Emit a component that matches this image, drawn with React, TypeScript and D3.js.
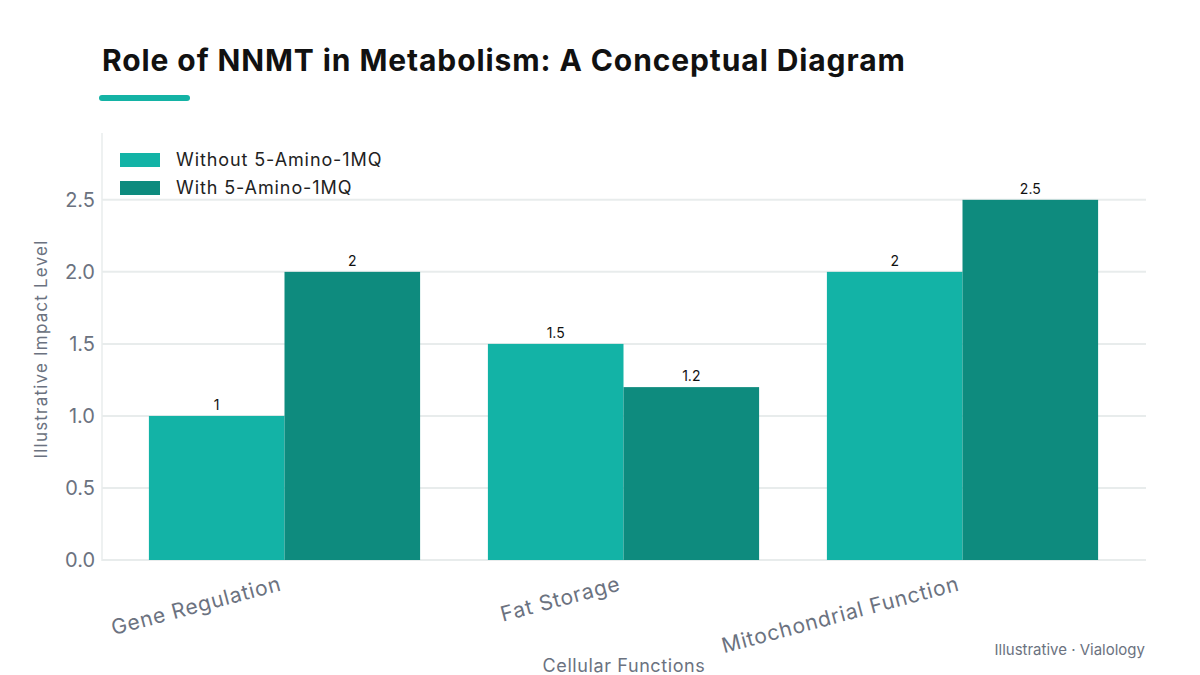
import * as d3 from 'd3'
import { useEffect, useRef } from "react";

const categories = ["Gene Regulation", "Fat Storage", "Mitochondrial Function"];
const seriesNames = ["Without 5-Amino-1MQ", "With 5-Amino-1MQ"];
const withoutValues = [1, 1.5, 2];
const withValues = [2, 1.2, 2.5];
const yTicks = [0, 0.5, 1.0, 1.5, 2.0, 2.5];
const colors = ["#13b3a6", "#0e8b7e"];

const App = () => {
  const svgRef = useRef(null);

  useEffect(() => {
    const svg = d3.select(svgRef.current);
    svg.selectAll('*').remove();
    const font = "Inter, 'DejaVu Sans', sans-serif";

    const x0 = d3.scaleBand().domain(categories).range([115, 1132]).paddingInner(0.2).paddingOuter(0.1);
    const x1 = d3.scaleBand().domain(seriesNames).range([0, x0.bandwidth()]);
    const y = d3.scaleLinear().domain([0, 2.95]).range([560, 135]);

    // title
    svg.append('text').attr('x', 102).attr('y', 71)
      .attr('font-family', font).attr('font-weight', 700).attr('font-size', 30)
      .attr('letter-spacing', 0.9)
      .attr('fill', '#111').text("Role of NNMT in Metabolism: A Conceptual Diagram");
    svg.append('rect').attr('x', 99).attr('y', 95).attr('width', 91).attr('height', 6)
      .attr('rx', 3).attr('fill', '#14b3a5');

    // grid
    svg.append('g').selectAll('line').data(yTicks).enter().append('line')
      .attr('x1', 102).attr('x2', 1146)
      .attr('y1', d => y(d)).attr('y2', d => y(d))
      .attr('stroke', '#e8ecec').attr('stroke-width', 2);
    svg.append('line').attr('x1', 102).attr('x2', 102).attr('y1', 133).attr('y2', 561)
      .attr('stroke', '#e8ecec').attr('stroke-width', 1.5);

    // y tick labels
    svg.append('g').selectAll('text').data(yTicks).enter().append('text')
      .attr('x', 95).attr('y', d => y(d)).attr('dy', '0.35em')
      .attr('text-anchor', 'end').attr('font-family', font).attr('font-size', 20)
      .attr('fill', '#6b7280').text(d => d3.format('.1f')(d));

    svg.append('text').attr('transform', 'translate(47,349) rotate(-90)')
      .attr('text-anchor', 'middle').attr('font-family', font).attr('font-size', 17)
      .attr('letter-spacing', 1.2)
      .attr('fill', '#6b7280').text("Illustrative Impact Level");

    // bars
    const series = [withoutValues, withValues];
    categories.forEach((c, i) => {
      series.forEach((vals, s) => {
        const bx = x0(c) + x1(seriesNames[s]);
        svg.append('rect').attr('x', bx).attr('y', y(vals[i]))
          .attr('width', x1.bandwidth()).attr('height', y(0) - y(vals[i]))
          .attr('fill', colors[s]);
        svg.append('text').attr('x', bx + x1.bandwidth() / 2).attr('y', y(vals[i]) - 6)
          .attr('text-anchor', 'middle').attr('font-family', font).attr('font-size', 14)
          .attr('fill', '#111').text(String(vals[i]));
      });
    });

    // x labels
    svg.append('g').selectAll('text').data(categories).enter().append('text')
      .attr('transform', d => `translate(${x0(d) + x0.bandwidth() / 2 - 2},${590}) rotate(-15)`)
      .attr('text-anchor', 'end').attr('font-family', font).attr('font-size', 21)
      .attr('letter-spacing', 0.8)
      .attr('fill', '#6b7280').text(d => d);

    svg.append('text').attr('x', 624).attr('y', 672)
      .attr('text-anchor', 'middle').attr('font-family', font).attr('font-size', 18)
      .attr('letter-spacing', 0.6)
      .attr('fill', '#6b7280').text("Cellular Functions");

    svg.append('text').attr('x', 1145).attr('y', 655)
      .attr('text-anchor', 'end').attr('font-family', font).attr('font-size', 15)
      .attr('fill', '#6b7280').text("Illustrative · Vialology");

    // legend
    seriesNames.forEach((n, i) => {
      svg.append('rect').attr('x', 120).attr('y', 153 + i * 28).attr('width', 40).attr('height', 14)
        .attr('fill', colors[i]);
      svg.append('text').attr('x', 176).attr('y', 160 + i * 28).attr('dy', '0.35em')
        .attr('font-family', font).attr('font-size', 18).attr('letter-spacing', 0.9)
        .attr('fill', '#222').text(n);
    });
  }, []);

  return (
    <svg ref={svgRef} width={1200} height={675}
      style={{ position: 'absolute', left: 0, top: 0, background: 'white' }} />
  );
};

export default App;
